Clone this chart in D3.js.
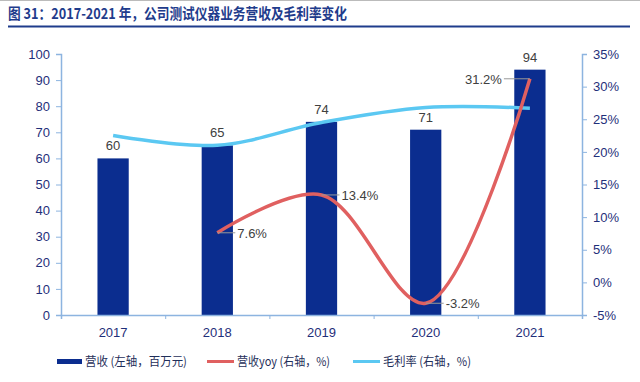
<!DOCTYPE html>
<html><head><meta charset="utf-8">
<script src="https://cdn.jsdelivr.net/npm/d3@7"></script>
<style>
body{margin:0;background:#fff;}
svg{display:block;font-family:"Liberation Sans",Arial,"Noto Sans CJK SC",sans-serif;}
</style></head>
<body><svg id="c" width="640" height="382"></svg>
<script>
const years = ["2017","2018","2019","2020","2021"];
const revenue = [60, 65, 74, 71, 94];
const revenueYoY = [null, 7.6, 13.4, -3.2, 31.2];
const grossMargin = [22.5, 21.0, 24.5, 26.8, 26.7];
const leftTicks = [0,10,20,30,40,50,60,70,80,90,100];
const rightTicks = [-5,0,5,10,15,20,25,30,35];
const title = "图 31：2017-2021 年，公司测试仪器业务营收及毛利率变化";
const legendLabels = ["营收 (左轴，百万元)","营收yoy (右轴，%)","毛利率 (右轴，%)"];

const svg = d3.select("#c");
const L = 61, R = 582, T = 54, B = 315;
const barColor = "#0B2D8F", redColor = "#E06060", cyanColor = "#5BC8F2";
const axisColor = "#8DB4E0", tickText = "#1F2F7A", labelText = "#404040";
const cjk = '"Noto Sans CJK SC",sans-serif';

// top rule and title
svg.append("line").attr("x1",0).attr("x2",640).attr("y1",0.5).attr("y2",0.5).attr("stroke","#bbb");
svg.append("text").attr("x",8).attr("y",18.5).attr("fill","#1F3C8C")
  .attr("font-size",15).attr("font-weight","bold").style("font-family",cjk)
  .attr("textLength",339).attr("lengthAdjust","spacingAndGlyphs").text(title);
svg.append("line").attr("x1",8).attr("x2",630).attr("y1",26.5).attr("y2",26.5)
  .attr("stroke","#1F3C8C").attr("stroke-width",2);

const x = d3.scaleBand().domain(years).range([L,R]).paddingInner(0.7).paddingOuter(0.35);
const xc = d => x(d) + x.bandwidth()/2;
const yL = d3.scaleLinear().domain([0,100]).range([B,T]);
const yR = d3.scaleLinear().domain([-5,35]).range([B,T]);

// bars
svg.append("g").selectAll("rect").data(years).join("rect")
  .attr("x", d=>x(d)).attr("width", x.bandwidth())
  .attr("y", (d,i)=>yL(revenue[i])).attr("height",(d,i)=>B-yL(revenue[i]))
  .attr("fill", barColor);
svg.append("g").selectAll("text").data(years).join("text")
  .attr("x", d=>xc(d)).attr("y",(d,i)=>yL(revenue[i])-8)
  .attr("text-anchor","middle").attr("font-size",13).attr("fill",labelText)
  .text((d,i)=>revenue[i]);

// axes
const axL = d3.axisLeft(yL).tickValues(leftTicks).tickSize(5).tickPadding(6);
const gL = svg.append("g").attr("transform",`translate(${L},0)`).call(axL);
const axR = d3.axisRight(yR).tickValues(rightTicks).tickSize(5).tickPadding(6).tickFormat(d=>d+"%");
const gR = svg.append("g").attr("transform",`translate(${R},0)`).call(axR);
const axB = d3.axisBottom(d3.scaleLinear().domain([0,5]).range([L,R])).tickValues([0,1,2,3,4,5]).tickSize(4).tickFormat("");
const gB = svg.append("g").attr("transform",`translate(0,${B})`).call(axB);
[gL,gR,gB].forEach(g=>{
  g.select(".domain").attr("stroke",axisColor).attr("stroke-width",1.5);
  g.selectAll(".tick line").attr("stroke",axisColor);
  g.selectAll(".tick text").attr("fill",tickText).attr("font-size",13).style("font-family","'Liberation Sans',Arial");
});
svg.append("g").selectAll("text").data(years).join("text")
  .attr("x", d=>xc(d)).attr("y", 337).attr("text-anchor","middle")
  .attr("font-size",13).attr("fill",tickText).text(d=>d);

// lines
const lineGen = (sc) => d3.line().defined(d=>d.v!=null).x(d=>xc(d.y)).y(d=>sc(d.v)).curve(d3.curveCatmullRom.alpha(0.5));
const gmData = years.map((y,i)=>({y, v:grossMargin[i]}));
const yoyData = years.map((y,i)=>({y, v:revenueYoY[i]})).filter(d=>d.v!=null);
svg.append("path").datum(gmData).attr("d", lineGen(yR)).attr("fill","none")
  .attr("stroke",cyanColor).attr("stroke-width",3.5);
svg.append("path").datum(yoyData).attr("d", lineGen(yR)).attr("fill","none")
  .attr("stroke",redColor).attr("stroke-width",3.5);

// yoy labels with leaders
const yoyLab = [null, {dx:1, tx:20}, {dx:1, tx:20}, {dx:1, tx:20}, {dx:-1, tx:-28}];
yoyData.forEach(d=>{
  const i = years.indexOf(d.y);
  const o = yoyLab[i];
  const px = xc(d.y), py = yR(d.v);
  const lx = px + o.tx;
  svg.append("line").attr("x1",px).attr("y1",py).attr("x2",lx - (o.dx>0?2:-2)).attr("y2",py)
    .attr("stroke","#999").attr("stroke-width",1);
  svg.append("text").attr("x",lx).attr("y",py+5)
    .attr("text-anchor",o.dx>0?"start":"end").attr("font-size",13).attr("fill",labelText)
    .text(d.v.toFixed(1)+"%");
});

// legend
const lg = svg.append("g").style("font-family",cjk).attr("font-size",12).attr("fill","#1F2F5A");
const items = [
  {x:57, color:barColor, rect:true, w:102},
  {x:207, color:redColor, w:93},
  {x:353, color:cyanColor, w:88}
];
items.forEach((it,i)=>{
  if(it.rect) lg.append("rect").attr("x",it.x).attr("y",359).attr("width",25).attr("height",5).attr("fill",it.color);
  else lg.append("line").attr("x1",it.x).attr("x2",it.x+27).attr("y1",361.5).attr("y2",361.5).attr("stroke",it.color).attr("stroke-width",3);
  lg.append("text").attr("x",it.x+(it.rect?28:30)).attr("y",366)
    .attr("textLength",it.w).attr("lengthAdjust","spacingAndGlyphs").text(legendLabels[i]);
});
</script></body></html>
